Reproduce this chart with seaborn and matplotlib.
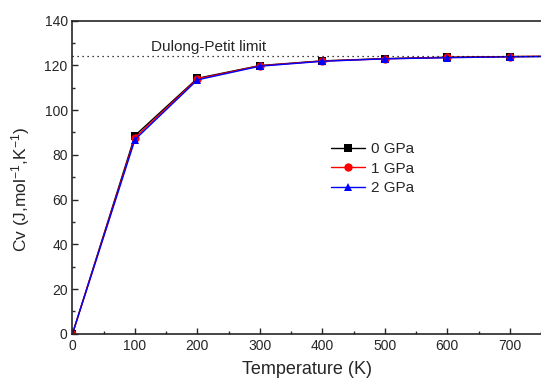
import numpy as np
import pandas as pd
import matplotlib
matplotlib.use("Agg")
import matplotlib.pyplot as plt
import seaborn as sns
from matplotlib.ticker import MultipleLocator

# data
temps = [0, 100, 200, 300, 400, 500, 600, 700, 800]
cv_0gpa = [0, 88.6, 114.2, 119.9, 122.0, 123.0, 123.6, 123.9, 124.1]
cv_1gpa = [0, 87.6, 113.9, 119.8, 121.9, 122.9, 123.5, 123.9, 124.1]
cv_2gpa = [0, 86.8, 113.5, 119.6, 121.8, 122.9, 123.4, 123.8, 124.0]
pressures = ["0 GPa", "1 GPa", "2 GPa"]
dulong_petit = 124.2

df = pd.DataFrame({
    "T": temps * 3,
    "Cv": cv_0gpa + cv_1gpa + cv_2gpa,
    "P": [p for p in pressures for _ in temps],
})

sns.set_style("ticks")
plt.rcParams["font.family"] = ["Liberation Sans", "DejaVu Sans"]
plt.rcParams["mathtext.fontset"] = "custom"
plt.rcParams["mathtext.rm"] = "Liberation Sans"

fig = plt.figure(figsize=(5.41, 3.81), dpi=100)
ax = fig.add_axes([0.134, 0.124, 0.866, 0.822])

colors = {"0 GPa": "black", "1 GPa": "red", "2 GPa": "blue"}
markers = {"0 GPa": "s", "1 GPa": "o", "2 GPa": "^"}
sns.lineplot(data=df, x="T", y="Cv", hue="P", style="P", palette=colors,
             markers=markers, dashes=False, markersize=6, linewidth=1.0,
             markeredgewidth=0, ax=ax)

ax.axhline(dulong_petit, color="black", linestyle=(0, (1, 3)), linewidth=0.9)
ax.text(126, 126.3, "Dulong-Petit limit", fontsize=11)

ax.set_xlim(0, 750)
ax.set_ylim(0, 140)
ax.xaxis.set_major_locator(MultipleLocator(100))
ax.xaxis.set_minor_locator(MultipleLocator(50))
ax.yaxis.set_major_locator(MultipleLocator(20))
ax.yaxis.set_minor_locator(MultipleLocator(10))
ax.tick_params(which="both", direction="in", labelsize=10)
ax.tick_params(which="major", length=4, width=1)
ax.tick_params(which="minor", length=2.5, width=1)
for s in ax.spines.values():
    s.set_linewidth(1.2)
ax.spines["right"].set_visible(False)

ax.set_xlabel("Temperature (K)", fontsize=13, labelpad=6)
ax.set_ylabel("Cv (J,mol$\\mathregular{^{-1}}$,K$\\mathregular{^{-1}}$)", fontsize=12.5)
ax.yaxis.set_label_coords(-0.086, 0.46)

ax.legend(title=None, frameon=False, loc="upper left",
          bbox_to_anchor=(0.523, 0.655), fontsize=11, handlelength=2.2,
          labelspacing=0.35, handletextpad=0.4)

fig.savefig("out.png", dpi=100)
